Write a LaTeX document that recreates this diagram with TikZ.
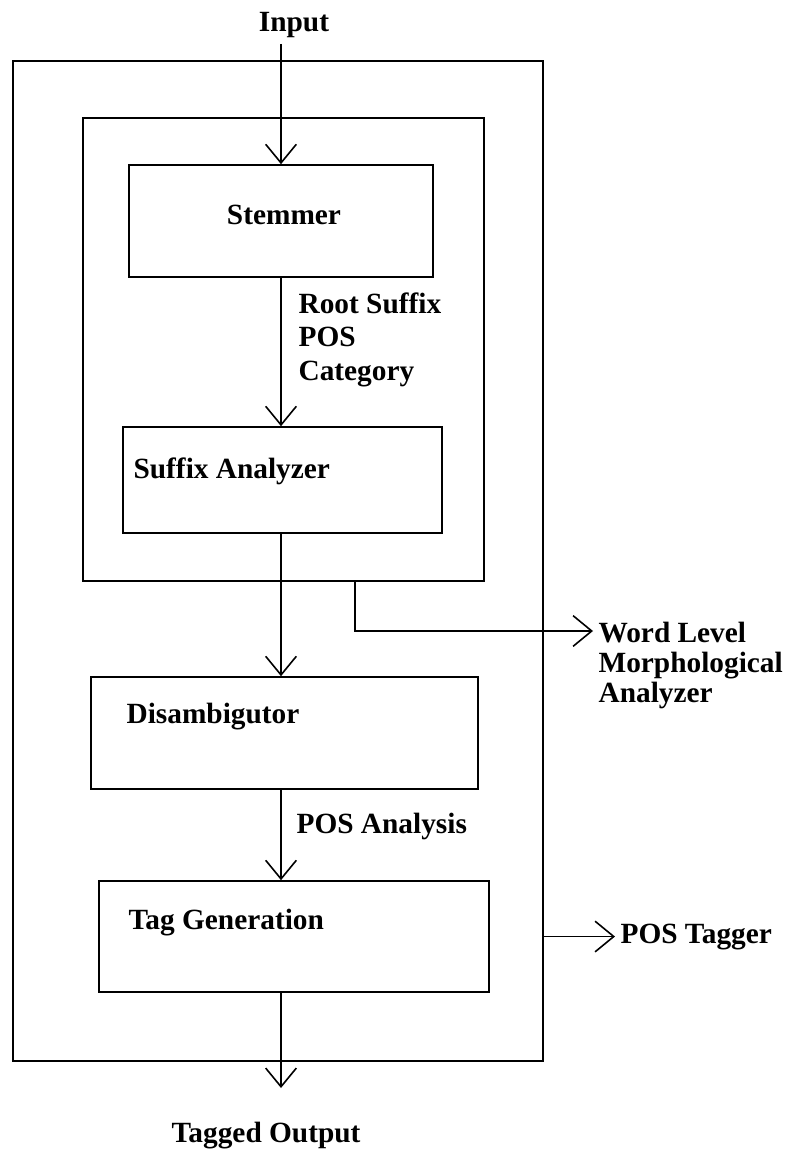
\documentclass[tikz,border=0pt]{standalone}
\usepackage{fontspec}
\setmainfont{Liberation Serif}
\usetikzlibrary{arrows.meta}

\begin{document}
\begin{tikzpicture}[x=0.75pt, y=-0.75pt]
    \tikzstyle{box} = [shape=rectangle, draw=black, line width=1.2pt, inner sep=0pt]
    \tikzstyle{lbl} = [font=\bfseries\fontsize{22}{25}\selectfont, inner sep=4pt, align=left]
    \tikzstyle{arr} = [line width=1.2pt, -{Straight Barb[length=14pt, width=23pt]}]

    \useasboundingbox (0, 0) rectangle (791, 1151);

    % 方框
    \path   (278, 561) node [box, name=outer, minimum width=397.5pt, minimum height=750pt] {}
            (283.5, 349.5) node [box, name=inner, minimum width=300.75pt, minimum height=347.25pt] {}
            (281, 221) node [box, name=stem, minimum width=228pt, minimum height=84pt] {}
            (282.5, 480) node [box, name=sa, minimum width=239.25pt, minimum height=79.5pt] {}
            (284.5, 733) node [box, name=dis, minimum width=290.25pt, minimum height=84pt] {}
            (294, 936.5) node [box, name=tg, minimum width=292.5pt, minimum height=83.25pt] {};

    % 文字 (多行的 base 在最后一行)
    \path   (294, 32) node [lbl, anchor=base, name=in] {Input}
            (284, 225) node [lbl, anchor=base, name=stemtxt] {Stemmer}
            (293, 380) node [lbl, anchor=base west, name=rsp] {Root Suffix\\POS\\Category}
            (128, 478) node [lbl, anchor=base west, name=satxt] {Suffix Analyzer}
            (121, 723) node [lbl, anchor=base west, name=distxt] {Disambigutor}
            (291, 833) node [lbl, anchor=base west, name=pa] {POS Analysis}
            (123, 929) node [lbl, anchor=base west, name=tgtxt] {Tag Generation}
            (593, 702) node [lbl, anchor=base west, name=wl,
                             font=\bfseries\fontsize{22}{22.5}\selectfont] {Word Level\\Morphological\\Analyzer}
            (615, 943) node [lbl, anchor=base west, name=pt] {POS Tagger}
            (266, 1142) node [lbl, anchor=base, name=out] {Tagged Output};

    % 连线
    \coordinate (br) at (355, 631);
    \coordinate (tip) at (281, 1088);
    \draw[arr] (in.south -| stem) -- (stem.north);
    \draw[arr] (stem.south) -- (sa.north -| stem);
    \draw[arr] (sa.south -| stem) -- (dis.north -| stem);
    \draw[arr] (dis.south -| stem) -- (tg.north -| stem);
    \draw[arr] (tg.south -| stem) -- (tip);
    \draw[arr] (inner.south -| br) -- (br) -- (br -| wl.west);
    \draw[arr] (outer.east |- pt) -- (pt.west);
\end{tikzpicture}
\end{document}
